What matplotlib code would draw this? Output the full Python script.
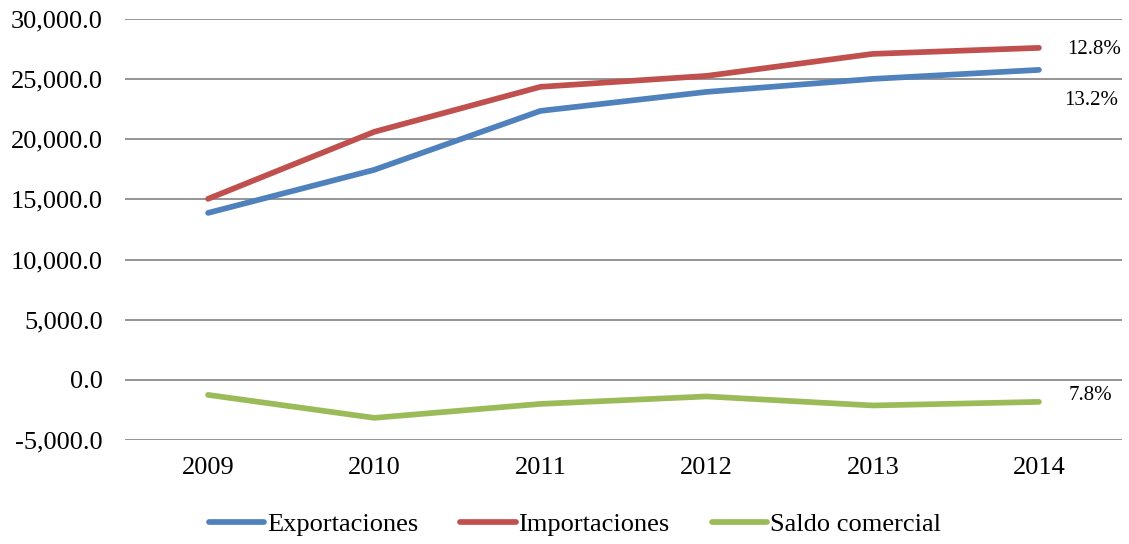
import matplotlib.pyplot as plt
from matplotlib.ticker import FuncFormatter

years = ["2009", "2010", "2011", "2012", "2013", "2014"]
exportaciones = [13880, 17460, 22360, 23940, 25020, 25770]
importaciones = [15050, 20620, 24360, 25270, 27100, 27600]
saldo = [-1250, -3160, -2000, -1380, -2130, -1830]
growth = ["13.2%", "12.8%", "7.8%"]

plt.rcParams['font.family'] = ['Liberation Serif', 'DejaVu Serif']

fig = plt.figure(figsize=(11.29, 5.44), dpi=100)
ax = fig.add_axes([125 / 1129, 1 - 440 / 544, 997 / 1129, 421 / 544])

x = range(len(years))
ax.plot(x, exportaciones, color="#4F81BD", lw=4.1, solid_capstyle="round", label="Exportaciones", zorder=3)
ax.plot(x, importaciones, color="#C0504D", lw=4.1, solid_capstyle="round", label="Importaciones", zorder=3)
ax.plot(x, saldo, color="#9BBB59", lw=4.1, solid_capstyle="round", label="Saldo comercial", zorder=3)

ax.set_xlim(-0.5, len(years) - 0.5)
ax.set_ylim(-5000, 30000)
ax.set_yticks(range(-5000, 30001, 5000))
ax.yaxis.set_major_formatter(FuncFormatter(lambda v, p: f"{v:,.1f}"))
ax.set_xticks(list(x))
ax.set_xticklabels(years)
ax.tick_params(axis="y", length=0, pad=16, labelsize=19)
ax.tick_params(axis="x", length=0, pad=12, labelsize=19)
ax.grid(axis="y", color="#8c8c8c", lw=1.3)
ax.set_axisbelow(True)
for s in ax.spines.values():
    s.set_visible(False)

# growth labels next to the last point
last = len(years) - 1
ax.annotate(growth[0], (last, exportaciones[-1]), xytext=(25, -31), textcoords="offset pixels",
            fontsize=15, va="center", ha="left")
ax.annotate(growth[1], (last, importaciones[-1]), xytext=(28, -2), textcoords="offset pixels",
            fontsize=15, va="center", ha="left")
ax.annotate(growth[2], (last, saldo[-1]), xytext=(30, 6), textcoords="offset pixels",
            fontsize=15, va="center", ha="left")

fig.legend(loc="center", bbox_to_anchor=(575 / 1129, 1 - 524 / 544), ncol=3, frameon=False,
           fontsize=19, handlelength=2.1, handletextpad=0.1, columnspacing=1.6)

fig.savefig("out.png", dpi=100)
